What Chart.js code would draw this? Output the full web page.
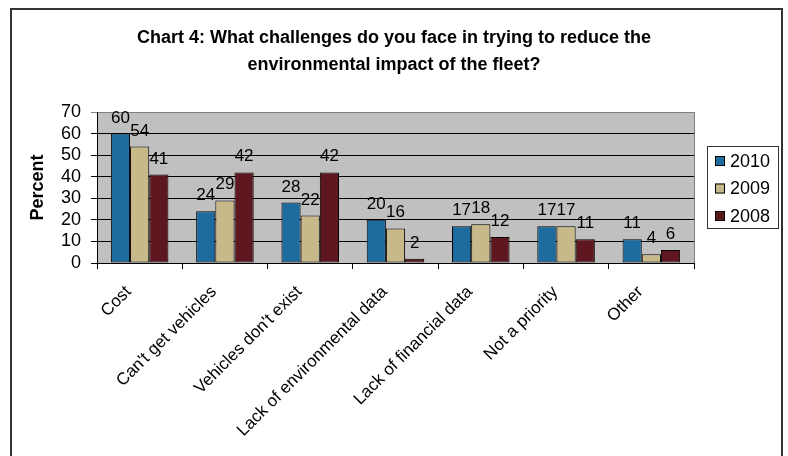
<!DOCTYPE html>
<html>
<head>
<meta charset="utf-8">
<script src="https://cdn.jsdelivr.net/npm/chart.js@4.4.1/dist/chart.umd.min.js"></script>
<style>
  html, body { margin: 0; padding: 0; background: #fff; }
  canvas { display: block; }
</style>
</head>
<body>
<canvas id="chart" width="788" height="456"></canvas>
<script>
// Chart data
const categories = ['Cost', "Can't get vehicles", "Vehicles don't exist", 'Lack of environmental data',
  'Lack of financial data', 'Not a priority', 'Other'];
const years = ['2010', '2009', '2008'];
const values2010 = [60, 24, 28, 20, 17, 17, 11];
const values2009 = [54, 29, 22, 16, 18, 17, 4];
const values2008 = [41, 42, 42, 2, 12, 11, 6];
const yTicks = [0, 10, 20, 30, 40, 50, 60, 70];
const titleLines = ['Chart 4: What challenges do you face in trying to reduce the',
  'environmental impact of the fleet?'];

const colors = ['#1E6B9F', '#C8B98A', '#5E171E'];
const FONT = 'Liberation Sans, Arial, sans-serif';

// grey plot area + outer frame
const plotBackground = {
  id: 'plotBackground',
  beforeDraw(chart) {
    const { ctx, chartArea: a } = chart;
    ctx.save();
    ctx.fillStyle = '#C0C0C0';
    ctx.fillRect(a.left, a.top, a.right - a.left, a.bottom - a.top);
    ctx.strokeStyle = '#808080';
    ctx.lineWidth = 1;
    ctx.strokeRect(a.left + 0.5, a.top + 0.5, a.right - a.left, a.bottom - a.top);
    ctx.restore();
  },
  afterDraw(chart) {
    const ctx = chart.ctx;
    ctx.save();
    ctx.strokeStyle = '#333';
    ctx.lineWidth = 2;
    ctx.strokeRect(11, 9, 771, 500);
    ctx.restore();
  }
};

// value labels above each bar
const barLabels = {
  id: 'barLabels',
  afterDatasetsDraw(chart) {
    const ctx = chart.ctx;
    ctx.save();
    ctx.font = `17px ${FONT}`;
    ctx.fillStyle = '#000';
    ctx.textAlign = 'center';
    ctx.textBaseline = 'alphabetic';
    chart.data.datasets.forEach((ds, i) => {
      chart.getDatasetMeta(i).data.forEach((bar, j) => {
        ctx.fillText(String(ds.data[j]), bar.x, bar.y - 11);
      });
    });
    ctx.restore();
  }
};

// boxed legend on the right
const boxLegend = {
  id: 'boxLegend',
  afterDraw(chart) {
    const ctx = chart.ctx;
    const left = 707, top = 146, w = 71, h = 82;
    ctx.save();
    ctx.fillStyle = '#fff';
    ctx.fillRect(left, top, w, h);
    ctx.strokeStyle = '#333';
    ctx.lineWidth = 1;
    ctx.strokeRect(left + 0.5, top + 0.5, w, h);
    ctx.font = `18px ${FONT}`;
    ctx.textBaseline = 'middle';
    ctx.textAlign = 'left';
    chart.data.datasets.forEach((ds, i) => {
      const cy = top + 15 + i * 27.5;
      ctx.fillStyle = ds.backgroundColor;
      ctx.fillRect(715, cy - 5, 10, 10);
      ctx.strokeStyle = '#000';
      ctx.strokeRect(715.5, cy - 4.5, 9, 9);
      ctx.fillStyle = '#000';
      ctx.fillText(ds.label, 730, cy + 1);
    });
    ctx.restore();
  }
};

const seriesValues = [values2010, values2009, values2008];

new Chart(document.getElementById('chart'), {
  type: 'bar',
  data: {
    labels: categories,
    datasets: years.map((y, i) => ({
      label: y,
      data: seriesValues[i],
      backgroundColor: colors[i],
      borderColor: '#000',
      borderWidth: 1,
      borderSkipped: false,
      categoryPercentage: 0.675,
      barPercentage: 1.0,
    })),
  },
  options: {
    responsive: false,
    animation: false,
    devicePixelRatio: 1,
    layout: { padding: 0 },
    plugins: {
      legend: { display: false },
      tooltip: { enabled: false },
      title: {
        display: true,
        text: titleLines,
        color: '#000',
        font: { family: FONT, size: 18, weight: 'bold', lineHeight: 1.5 },
        padding: { top: 25, bottom: 33 },
      },
    },
    scales: {
      x: {
        grid: { offset: true, drawOnChartArea: false, tickLength: 6, color: '#000' },
        border: { color: '#000' },
        ticks: {
          color: '#000',
          font: { family: FONT, size: 17 },
          minRotation: 45,
          maxRotation: 45,
          autoSkip: false,
          labelOffset: -11,
          padding: 13,
        },
        afterFit(scale) { scale.height = 193; },
      },
      y: {
        min: 0,
        max: 70,
        afterBuildTicks(scale) { scale.ticks = yTicks.map(v => ({ value: v })); },
        grid: {
          tickLength: 6,
          color: (c) => (c.tick && c.tick.value === 70 ? '#808080' : '#000'),
        },
        border: { color: '#000' },
        ticks: { color: '#000', font: { family: FONT, size: 18 }, padding: 10, autoSkip: false },
        title: {
          display: true,
          text: 'Percent',
          color: '#000',
          font: { family: FONT, size: 18, weight: 'bold' },
          padding: { top: 27, bottom: 0 },
        },
        afterFit(scale) { scale.width = 97; },
      },
      // empty right-hand box that reserves room for the legend
      side: {
        position: 'right',
        display: true,
        grid: { display: false },
        border: { display: false },
        ticks: { display: false },
        afterFit(scale) { scale.width = 94; },
      },
    },
  },
  plugins: [plotBackground, barLabels, boxLegend],
});
</script>
</body>
</html>
